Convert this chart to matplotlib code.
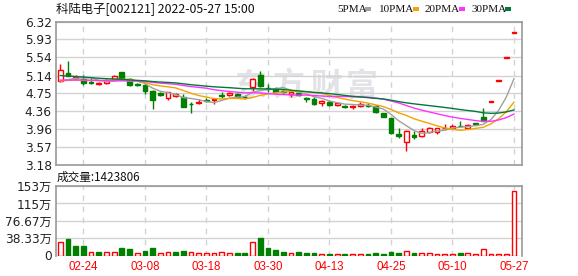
import matplotlib
matplotlib.use('Agg')
import matplotlib.pyplot as plt
import numpy as np
import pandas as pd
from matplotlib.patches import Rectangle

plt.rcParams['font.family'] = ['Noto Sans CJK SC', 'DejaVu Sans']

title = '科陆电子[002121] 2022-05-27 15:00'
volume_title = '成交量:1423806'

dates = ['02-21', '02-22', '02-23', '02-24', '02-25', '02-28', '03-01', '03-02', '03-03', '03-04',
         '03-07', '03-08', '03-09', '03-10', '03-11', '03-14', '03-15', '03-16', '03-17', '03-18',
         '03-21', '03-22', '03-23', '03-24', '03-25', '03-28', '03-29', '03-30', '03-31', '04-01',
         '04-06', '04-07', '04-08', '04-11', '04-12', '04-13', '04-14', '04-15', '04-18', '04-19',
         '04-20', '04-21', '04-22', '04-25', '04-26', '04-27', '04-28', '04-29', '05-05', '05-06',
         '05-09', '05-10', '05-11', '05-12', '05-13', '05-23', '05-24', '05-25', '05-26', '05-27']

opens = [5.01, 5.19, 5.08, 5.07, 4.99, 4.95, 4.98, 5.06, 5.21, 5.07,
         4.96, 4.93, 4.80, 4.75, 4.65, 4.69, 4.68, 4.52, 4.53, 4.61,
         4.60, 4.72, 4.71, 4.73, 4.68, 4.90, 5.15, 4.86, 4.85, 4.80,
         4.73, 4.76, 4.64, 4.62, 4.53, 4.57, 4.50, 4.48, 4.44, 4.47,
         4.50, 4.47, 4.31, 4.21, 3.86, 3.69, 3.83, 3.82, 3.91, 3.90,
         3.98, 3.98, 4.04, 4.00, 4.09, 4.23, 4.57, 5.03, 5.53, 6.08]
highs = [5.40, 5.45, 5.16, 5.15, 5.08, 5.00, 5.06, 5.16, 5.21, 5.09,
         4.97, 4.96, 4.83, 4.77, 4.79, 4.75, 4.73, 4.55, 4.63, 4.64,
         4.63, 4.79, 4.77, 4.76, 4.71, 5.08, 5.23, 4.95, 4.88, 4.82,
         4.79, 4.78, 4.68, 4.66, 4.60, 4.60, 4.54, 4.50, 4.49, 4.55,
         4.53, 4.49, 4.32, 4.22, 3.99, 3.94, 3.92, 3.98, 4.01, 4.00,
         4.07, 4.08, 4.14, 4.08, 4.11, 4.42, 4.57, 5.03, 5.53, 6.08]
lows = [4.99, 5.13, 5.05, 4.94, 4.96, 4.94, 4.96, 5.05, 5.04, 4.91,
        4.91, 4.73, 4.40, 4.69, 4.61, 4.66, 4.44, 4.33, 4.52, 4.56,
        4.51, 4.64, 4.70, 4.66, 4.63, 4.81, 4.88, 4.79, 4.77, 4.75,
        4.68, 4.69, 4.55, 4.49, 4.47, 4.47, 4.48, 4.42, 4.41, 4.44,
        4.45, 4.32, 4.23, 3.87, 3.77, 3.48, 3.74, 3.80, 3.88, 3.87,
        3.97, 3.96, 4.03, 3.99, 4.05, 4.14, 4.57, 5.03, 5.53, 6.08]
closes = [5.27, 5.14, 5.11, 4.97, 4.98, 4.97, 5.03, 5.12, 5.05, 4.93,
          4.94, 4.80, 4.60, 4.71, 4.78, 4.73, 4.46, 4.51, 4.57, 4.58,
          4.62, 4.70, 4.75, 4.68, 4.66, 5.07, 4.91, 4.84, 4.79, 4.77,
          4.78, 4.71, 4.62, 4.51, 4.58, 4.49, 4.53, 4.46, 4.47, 4.52,
          4.47, 4.34, 4.24, 3.88, 3.82, 3.93, 3.80, 3.93, 3.98, 3.99,
          4.00, 4.04, 4.03, 4.06, 4.07, 4.15, 4.57, 5.03, 5.53, 6.08]
# volume in 万 shares
volumes = [29.3, 36.6, 20.5, 20.5, 8.8, 7.3, 7.3, 8.8, 16.8, 13.9,
           6.6, 10.2, 16.1, 6.6, 8.8, 7.3, 9.5, 8.8, 6.6, 5.1,
           5.1, 8.8, 5.1, 5.1, 5.1, 29.3, 38.8, 16.8, 12.4, 8.1,
           5.9, 7.3, 5.1, 5.1, 2.9, 2.9, 2.9, 2.9, 2.9, 2.9,
           2.9, 5.1, 2.9, 7.3, 5.1, 9.5, 5.1, 5.1, 5.1, 2.9,
           2.9, 2.9, 5.1, 5.1, 2.9, 13.9, 2.9, 2.9, 2.9, 142.3806]
# closes before the visible window (estimated from the moving-average lines)
prior_closes = [5.45, 5.40, 5.38, 5.36, 5.35, 5.33, 5.30, 5.28, 5.29, 5.26,
                5.10, 5.08, 5.05, 5.02, 5.04, 5.07, 5.09, 5.06, 5.04, 5.05,
                5.00, 5.03, 5.05, 5.01, 5.01, 4.99, 4.96, 4.93, 4.95]

ma_periods = [5, 10, 20, 30]
ma_names = ['5PMA', '10PMA', '20PMA', '30PMA']
ma_colors = ['#a0a0a0', '#f5a300', '#ff33ff', '#007a3a']

price_ticks = [3.18, 3.57, 3.96, 4.36, 4.75, 5.14, 5.54, 5.93, 6.32]
vol_ticks = [0, 38.33, 76.67, 115, 153]
vol_tick_labels = ['0', '38.33万', '76.67万', '115万', '153万']

UP = '#ff0000'
DOWN = '#008000'
GRID = '#d3d3d3'
SPINE = '#999999'

W, H = 578, 276
fig = plt.figure(figsize=(W / 100, H / 100), dpi=100)
fig.patch.set_facecolor('white')

def fx(px):
    return px / W

def fy(py):
    return 1 - py / H

ax = fig.add_axes([fx(56), fy(165), fx(522) - fx(56), fy(21.7) - fy(165)])
axv = fig.add_axes([fx(56), fy(255.5), fx(522) - fx(56), fy(186.3) - fy(255.5)])

n = len(closes)
x = np.arange(n)
o = np.array(opens)
h = np.array(highs)
l = np.array(lows)
c = np.array(closes)
up = c >= o

# watermark
for ch, px in zip('东方财富', [250, 289, 326, 362]):
    ax.text(fx(px), fy(87), ch, transform=fig.transFigure, fontsize=23, fontweight='bold',
            color='#e2e2e7', ha='center', va='center', zorder=0.5)

# wicks
ax.vlines(x, l, h, colors=np.where(up, UP, DOWN), linewidth=1, zorder=3)
# bodies
body_bottom = np.minimum(o, c)
body_height = np.maximum(np.abs(c - o), 0.006)
ax.bar(x[up], body_height[up], bottom=body_bottom[up], width=0.62,
       facecolor='white', edgecolor=UP, linewidth=1, zorder=4)
ax.bar(x[~up], body_height[~up], bottom=body_bottom[~up], width=0.62,
       facecolor=DOWN, edgecolor=DOWN, linewidth=1, zorder=4)

# moving averages
full = pd.Series(prior_closes + closes)
for p, col in zip(ma_periods, ma_colors):
    ma = full.rolling(p).mean().iloc[len(prior_closes):].to_numpy()
    ax.plot(x, ma, color=col, linewidth=1.0, zorder=5)

tick_idx = list(range(3, n, 8))
for a in (ax, axv):
    a.set_xlim(-0.56, n + 0.04)
    a.set_xticks(tick_idx)
    a.grid(True, axis='x', color=GRID, linestyle=(0, (4, 4)), linewidth=1, zorder=1)
    a.grid(True, axis='y', color=GRID, linestyle='-', linewidth=1, zorder=1)
    a.set_axisbelow(True)
    for s in a.spines.values():
        s.set_color(SPINE)
        s.set_linewidth(1.2)
    a.tick_params(length=0)

ax.set_ylim(3.18, 6.32)
ax.set_yticks(price_ticks)
ax.set_yticklabels([f'{t:.2f}' for t in price_ticks], fontsize=8.7, color='#222222',
                   fontfamily=['DejaVu Sans'])
ax.tick_params(axis='y', pad=3)
ax.set_xticklabels([])

vol_col = []
prev = prior_closes[-1]
for cc in closes:
    vol_col.append(cc >= prev)
    prev = cc
vol_col = np.array(vol_col)
v = np.array(volumes)
axv.bar(x[vol_col], v[vol_col], width=0.62, facecolor='white', edgecolor=UP, linewidth=1, zorder=3)
axv.bar(x[~vol_col], v[~vol_col], width=0.62, facecolor=DOWN, edgecolor=DOWN, linewidth=1, zorder=3)
axv.set_ylim(0, 153)
axv.set_yticks(vol_ticks)
axv.set_yticklabels(vol_tick_labels, fontsize=8.7, color='#222222',
                    fontfamily=['DejaVu Sans', 'Noto Sans CJK SC'])
axv.tick_params(axis='y', pad=3)
axv.set_xticklabels([dates[i] for i in tick_idx], fontsize=8.3, color=UP,
                    fontfamily=['Liberation Sans'])
axv.tick_params(axis='x', pad=4)
axv.spines['bottom'].set_visible(False)

# title & volume label
fig.text(fx(56), fy(9.5), title, fontsize=8.9, color='#111111', ha='left', va='center')
fig.text(fx(57), fy(177), volume_title, fontsize=8.4, color='#111111', ha='left', va='center')

# legend
leg_text_x = [337, 379, 425, 471]
leg_sq_x = [365, 413, 459, 505]
for name, col, tx, sx in zip(ma_names, ma_colors, leg_text_x, leg_sq_x):
    fig.text(fx(tx), fy(9), name, fontsize=8, color='#111111', ha='left', va='center',
             fontfamily=['Liberation Serif'])
    fig.patches.append(Rectangle((fx(sx), fy(11)), 6 / W, 4 / H, transform=fig.transFigure,
                                 facecolor=col, edgecolor='none'))

fig.savefig('out.png', dpi=100)
